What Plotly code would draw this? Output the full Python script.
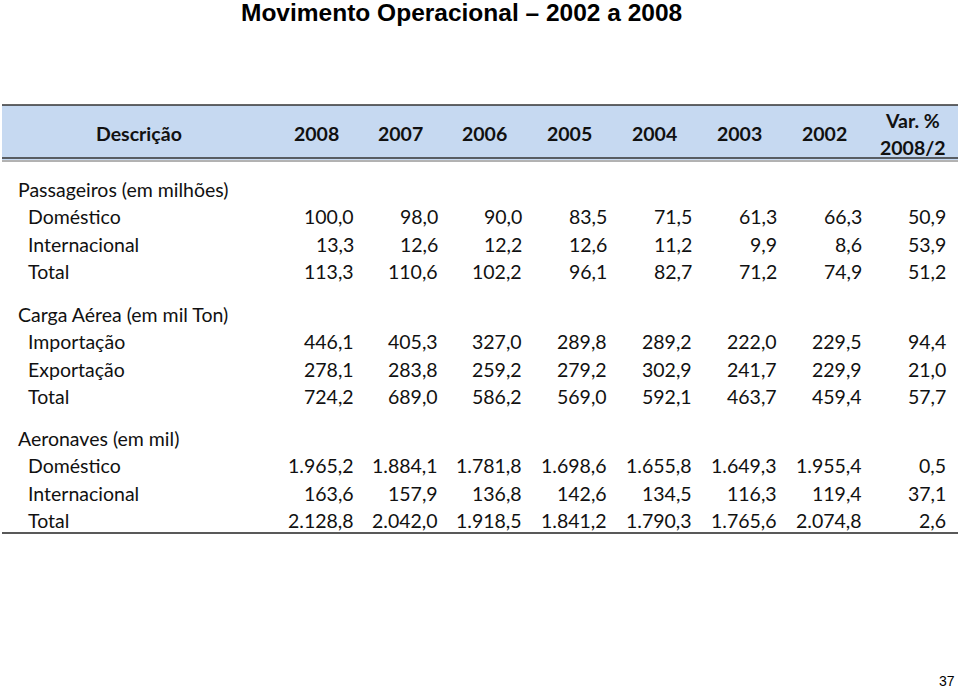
import plotly.graph_objects as go

title = "Movimento Operacional – 2002 a 2008"
years = ["2008", "2007", "2006", "2005", "2004", "2003", "2002"]
var_header = ["Var. %", "2008/2"]

sections = ["Passageiros (em milhões)", "Carga Aérea (em mil Ton)", "Aeronaves (em mil)"]
row_labels = [
    ["Doméstico", "Internacional", "Total"],
    ["Importação", "Exportação", "Total"],
    ["Doméstico", "Internacional", "Total"],
]
passageiros = [
    ["100,0", "98,0", "90,0", "83,5", "71,5", "61,3", "66,3", "50,9"],
    ["13,3", "12,6", "12,2", "12,6", "11,2", "9,9", "8,6", "53,9"],
    ["113,3", "110,6", "102,2", "96,1", "82,7", "71,2", "74,9", "51,2"],
]
carga = [
    ["446,1", "405,3", "327,0", "289,8", "289,2", "222,0", "229,5", "94,4"],
    ["278,1", "283,8", "259,2", "279,2", "302,9", "241,7", "229,9", "21,0"],
    ["724,2", "689,0", "586,2", "569,0", "592,1", "463,7", "459,4", "57,7"],
]
aeronaves = [
    ["1.965,2", "1.884,1", "1.781,8", "1.698,6", "1.655,8", "1.649,3", "1.955,4", "0,5"],
    ["163,6", "157,9", "136,8", "142,6", "134,5", "116,3", "119,4", "37,1"],
    ["2.128,8", "2.042,0", "1.918,5", "1.841,2", "1.790,3", "1.765,6", "2.074,8", "2,6"],
]
page_number = "37"

W, H = 959, 689
FONT = "Lato"
FS = 19.5
fig = go.Figure()
ann = []
shapes = []

# header band
shapes.append(dict(type="rect", x0=2, x1=958, y0=105, y1=160, fillcolor="#C6D9F1", line_width=0, layer="below"))
shapes.append(dict(type="line", x0=2, x1=958, y0=105, y1=105, line=dict(color="#333333", width=1.5)))
shapes.append(dict(type="line", x0=2, x1=958, y0=158, y1=158, line=dict(color="#333333", width=1.5)))
shapes.append(dict(type="line", x0=2, x1=958, y0=161, y1=161, line=dict(color="#666666", width=1)))
shapes.append(dict(type="line", x0=2, x1=958, y0=533, y1=533, line=dict(color="#222222", width=1.5)))

def txt(x, y, s, anchor="left", size=FS, bold=False, family=FONT, color="#111111"):
    ann.append(dict(x=x, y=y, text=("<b>%s</b>" % s) if bold else s, showarrow=False,
                    xanchor=anchor, yanchor="middle", xref="x", yref="y",
                    font=dict(family=family, size=size, color=color)))

txt(461, 12, title, anchor="center", size=24.5, bold=True, family="Liberation Sans", color="#000000")
txt(139, 133, "Descrição", anchor="center", bold=True)
col_right = [356, 440, 524, 609, 694, 779, 864, 948]
for i, yv in enumerate(years):
    txt(col_right[i] - 40, 133, yv, anchor="center", bold=True)
txt(912, 120, var_header[0], anchor="center", bold=True)
txt(913, 147, var_header[1], anchor="center", bold=True)

data = [passageiros, carga, aeronaves]
sec_y = [189, 314, 438]
row_step = 27.6
for s, name in enumerate(sections):
    txt(16, sec_y[s], name)
    for r, lab in enumerate(row_labels[s]):
        y = sec_y[s] + row_step * (r + 1)
        txt(26, y, lab)
        for c, v in enumerate(data[s][r]):
            txt(col_right[c], y, v, anchor="right")

txt(947, 681, page_number, anchor="center", size=14, family="Liberation Sans", color="#000000")

fig.update_layout(width=W, height=H, margin=dict(l=0, r=0, t=0, b=0),
                  paper_bgcolor="white", plot_bgcolor="white",
                  xaxis=dict(range=[0, W], visible=False, fixedrange=True),
                  yaxis=dict(range=[H, 0], visible=False, fixedrange=True),
                  annotations=ann, shapes=shapes, showlegend=False)
fig.write_html("out.html", config={"displayModeBar": False},
               post_script="document.body.style.margin='0px';document.body.style.overflow='hidden';")
